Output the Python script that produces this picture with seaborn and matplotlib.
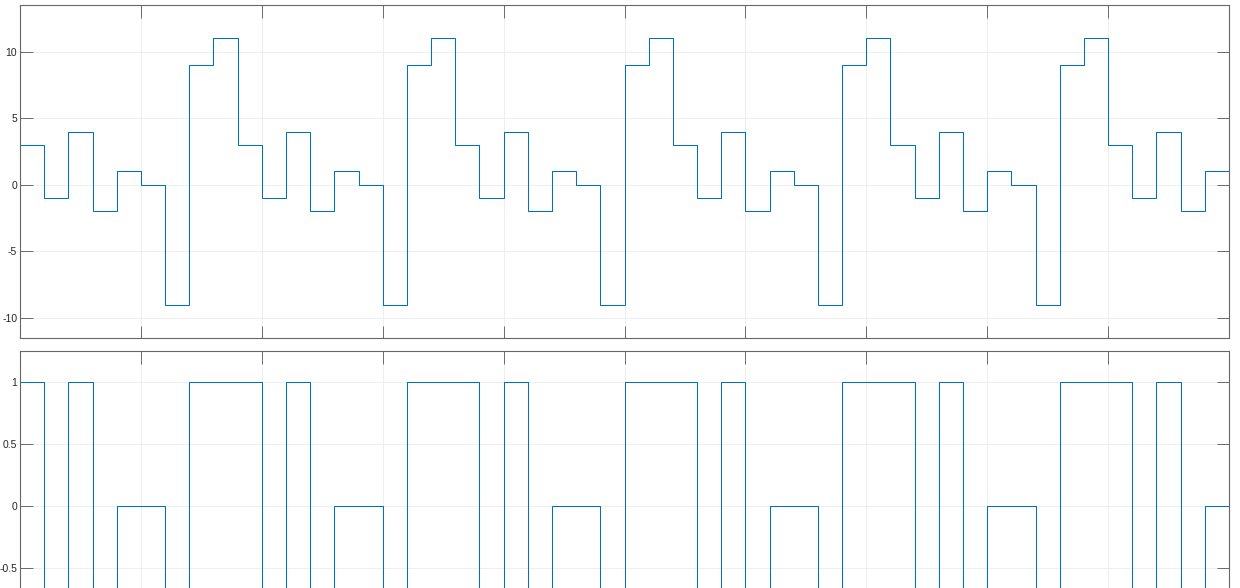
import matplotlib
matplotlib.use("Agg")
import matplotlib.pyplot as plt
import seaborn as sns
import numpy as np

# ---- data ----
t = list(range(0, 51))
signal = [3, -1, 4, -2, 1, 0, -9, 9, 11,
          3, -1, 4, -2, 1, 0, -9, 9, 11,
          3, -1, 4, -2, 1, 0, -9, 9, 11,
          3, -1, 4, -2, 1, 0, -9, 9, 11,
          3, -1, 4, -2, 1, 0, -9, 9, 11,
          3, -1, 4, -2, 1, 1]
sign_out = [1, -1, 1, -1, 0, 0, -1, 1, 1,
            1, -1, 1, -1, 0, 0, -1, 1, 1,
            1, -1, 1, -1, 0, 0, -1, 1, 1,
            1, -1, 1, -1, 0, 0, -1, 1, 1,
            1, -1, 1, -1, 0, 0, -1, 1, 1,
            1, -1, 1, -1, 0, 0]
xticks = [0, 5, 10, 15, 20, 25, 30, 35, 40, 45, 50]
yticks_top = [-10, -5, 0, 5, 10]
yticks_bot = [-0.5, 0, 0.5, 1]
yticklabels_bot = ["-0.5", "0", "0.5", "1"]

sns.set_style("white")
plt.rcParams['font.family'] = ['Liberation Sans', 'DejaVu Sans']

W, H = 1240, 588
fig = plt.figure(figsize=(W / 100, H / 100), dpi=100)

def px_axes(left, top, right, bottom):
    return fig.add_axes([left / W, 1 - bottom / H, (right - left) / W, (bottom - top) / H])

ax1 = px_axes(20, 5, 1229, 338)
ax2 = px_axes(20, 351, 1229, 661)

line_color = '#0072BD'
sns.lineplot(x=t, y=signal, ax=ax1, drawstyle='steps-post', color=line_color,
             linewidth=0.75, estimator=None)
sns.lineplot(x=t, y=sign_out, ax=ax2, drawstyle='steps-post', color=line_color,
             linewidth=0.75, estimator=None)

ax1.set_ylim(-11.5, 13.5)
ax1.set_yticks(yticks_top)
ax1.set_yticklabels([str(v) for v in yticks_top])
ax2.set_ylim(-1.25, 1.25)
ax2.set_yticks(yticks_bot)
ax2.set_yticklabels(yticklabels_bot)

for ax in (ax1, ax2):
    ax.set_xlim(0, 50)
    ax.set_xticks(xticks)
    ax.grid(True, color='#ebebeb', linewidth=0.6)
    ax.set_axisbelow(True)
    ax.tick_params(axis='both', which='both', direction='in', length=9, width=0.6,
                   color='#555555', top=True, right=True, bottom=True, left=True,
                   labelbottom=False, labelsize=7.5, labelcolor='#262626', pad=2)
    for s in ax.spines.values():
        s.set_visible(True)
        s.set_color('#666666')
        s.set_linewidth(0.8)
    ax.set_xlabel('')
    ax.set_ylabel('')

fig.savefig('out.png', dpi=100)
